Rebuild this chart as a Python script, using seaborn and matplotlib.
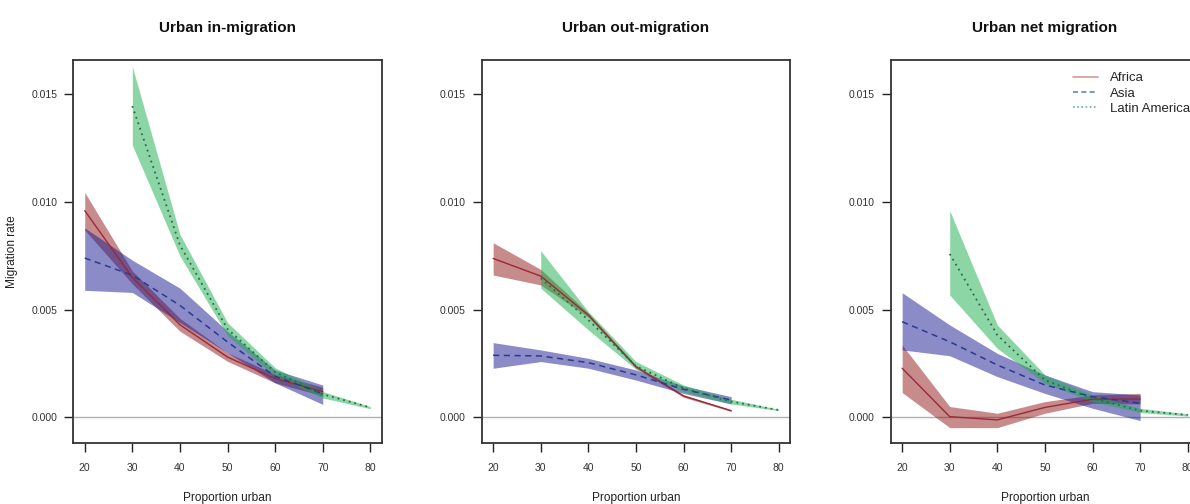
import numpy as np
import pandas as pd
import matplotlib
matplotlib.use("Agg")
import matplotlib.pyplot as plt
from matplotlib.lines import Line2D
import seaborn as sns

# ---------------- data ----------------
regions = ["Africa", "Asia", "Latin America"]
urban_af_as = [20, 30, 40, 50, 60, 70]
urban_la = [30, 40, 50, 60, 70, 80]
panel_titles = ["Urban in-migration", "Urban out-migration", "Urban net migration"]
y_ticks = [0.000, 0.005, 0.010, 0.015]
y_tick_labels = ["0.000", "0.005", "0.010", "0.015"]
x_ticks = [20, 30, 40, 50, 60, 70, 80]

# in-migration
africa_in = [0.0096, 0.0065, 0.0043, 0.0028, 0.0018, 0.0012]
africa_in_lo = [0.0087, 0.0062, 0.0040, 0.0026, 0.0016, 0.0010]
africa_in_hi = [0.01045, 0.0068, 0.0046, 0.0030, 0.0020, 0.0014]
asia_in = [0.0074, 0.0066, 0.0052, 0.0035, 0.0019, 0.0011]
asia_in_lo = [0.0059, 0.0058, 0.0044, 0.0030, 0.0016, 0.0006]
asia_in_hi = [0.0088, 0.0073, 0.0060, 0.0040, 0.0022, 0.0015]
latam_in = [0.01446, 0.0080, 0.0041, 0.0021, 0.00107, 0.00046]
latam_in_lo = [0.01265, 0.0075, 0.0038, 0.0019, 0.0009, 0.0004]
latam_in_hi = [0.0163, 0.0085, 0.0044, 0.0023, 0.0012, 0.0005]

# out-migration
africa_out = [0.00738, 0.00656, 0.00475, 0.00235, 0.00099, 0.00031]
africa_out_lo = [0.00661, 0.00615, 0.00465, 0.00228, 0.00093, 0.00027]
africa_out_hi = [0.00811, 0.00687, 0.00485, 0.00242, 0.00105, 0.00035]
asia_out = [0.00288, 0.00285, 0.00254, 0.00197, 0.0013, 0.0008]
asia_out_lo = [0.00228, 0.00259, 0.00228, 0.00173, 0.00111, 0.00062]
asia_out_hi = [0.00347, 0.00313, 0.00274, 0.0022, 0.00146, 0.00096]
latam_out = [0.00646, 0.00452, 0.00238, 0.00135, 0.00073, 0.00034]
latam_out_lo = [0.0060, 0.00406, 0.00223, 0.00119, 0.00062, 0.00031]
latam_out_hi = [0.00774, 0.00491, 0.00259, 0.0015, 0.00084, 0.00037]

# net migration
africa_net = [0.00228, 0.00003, -0.00012, 0.00046, 0.00084, 0.00085]
africa_net_lo = [0.00115, -0.00048, -0.00048, 0.00019, 0.00065, 0.00062]
africa_net_hi = [0.00336, 0.0005, 0.00019, 0.00073, 0.00104, 0.00111]
asia_net = [0.00444, 0.00351, 0.00243, 0.0015, 0.00096, 0.00065]
asia_net_lo = [0.00313, 0.00286, 0.00189, 0.00111, 0.00042, -0.00015]
asia_net_hi = [0.00579, 0.00429, 0.00297, 0.00197, 0.00119, 0.00104]
latam_net = [0.00759, 0.00382, 0.00173, 0.00088, 0.00031, 0.00011]
latam_net_lo = [0.00568, 0.0032, 0.00158, 0.00073, 0.00022, 0.00006]
latam_net_hi = [0.0096, 0.00429, 0.00197, 0.00104, 0.00042, 0.00016]

panels = [
    {"Africa": (africa_in, africa_in_lo, africa_in_hi),
     "Asia": (asia_in, asia_in_lo, asia_in_hi),
     "Latin America": (latam_in, latam_in_lo, latam_in_hi)},
    {"Africa": (africa_out, africa_out_lo, africa_out_hi),
     "Asia": (asia_out, asia_out_lo, asia_out_hi),
     "Latin America": (latam_out, latam_out_lo, latam_out_hi)},
    {"Africa": (africa_net, africa_net_lo, africa_net_hi),
     "Asia": (asia_net, asia_net_lo, asia_net_hi),
     "Latin America": (latam_net, latam_net_lo, latam_net_hi)},
]

# ---------------- style ----------------
sns.set_style("white")
plt.rcParams["font.family"] = ["Liberation Sans", "DejaVu Sans"]

fill_colors = {"Africa": "#911919", "Asia": "#191991", "Latin America": "#19af4b"}
line_colors = {"Africa": "#9a2a36", "Asia": "#2a3a8e", "Latin America": "#2b6a4c"}
legend_colors = {"Africa": "#d39a96", "Asia": "#5b87b3", "Latin America": "#6aa9a2"}
dash_styles = {"Africa": "", "Asia": (4, 3), "Latin America": (1, 2.2)}
line_widths = {"Africa": 1.0, "Asia": 1.1, "Latin America": 1.3}

fig = plt.figure(figsize=(11.9, 5.04), dpi=100)
lefts = [0.0616, 0.4048, 0.7485]
bottom, width, height = 0.1216, 0.2592, 0.7594

for i, (pdata, title) in enumerate(zip(panels, panel_titles)):
    ax = fig.add_axes([lefts[i], bottom, width, height])
    rows = []
    for reg in regions:
        xs = urban_la if reg == "Latin America" else urban_af_as
        mid, lo, hi = pdata[reg]
        ax.fill_between(xs, lo, hi, color=fill_colors[reg], alpha=0.5, linewidth=0, zorder=2)
        for x, m in zip(xs, mid):
            rows.append({"urban": x, "rate": m, "region": reg})
    df = pd.DataFrame(rows)
    ax.axhline(0, color="#b0b0b0", lw=1.0, zorder=1)
    sns.lineplot(data=df, x="urban", y="rate", hue="region", style="region",
                 palette=line_colors, dashes=dash_styles, estimator=None,
                 legend=False, ax=ax, zorder=3, linewidth=1.1)
    for line, reg in zip(ax.get_lines()[1:], regions):
        line.set_linewidth(line_widths[reg])

    ax.set_xlim(17.6, 82.4)
    ax.set_ylim(-0.00118, 0.0166)
    ax.set_xticks(x_ticks)
    ax.set_xticklabels([str(t) for t in x_ticks])
    ax.set_yticks(y_ticks)
    ax.set_yticklabels(y_tick_labels)
    ax.tick_params(axis="both", which="major", bottom=True, left=True,
                   top=False, right=False, direction="out", length=6.5, width=1.0,
                   color="#222222", labelsize=7.5, labelcolor="#333333")
    ax.tick_params(axis="x", pad=8)
    ax.tick_params(axis="y", pad=5)
    for sp in ax.spines.values():
        sp.set_visible(True)
        sp.set_color("#333333")
        sp.set_linewidth(1.3)
    ax.set_title(title, fontsize=11, fontweight="bold", pad=20, color="#111111")
    ax.set_xlabel("Proportion urban", fontsize=8.6, color="#222222")
    ax.xaxis.set_label_coords(0.5, -0.128)
    if i == 0:
        ax.set_ylabel("Migration rate", fontsize=8.6, color="#222222")
        ax.yaxis.set_label_coords(-0.18, 0.5)
    else:
        ax.set_ylabel("")
    if i == 2:
        handles = []
        for reg in regions:
            h = Line2D([0], [0], color=legend_colors[reg], lw=1.2)
            if dash_styles[reg]:
                h.set_dashes((3, 2) if reg == "Asia" else (1, 1.5))
            handles.append(h)
        ax.legend(handles, regions, loc="upper left", bbox_to_anchor=(0.591, 0.968),
                  frameon=False, fontsize=9.5, handlelength=1.9, handletextpad=0.9,
                  labelspacing=0.22, borderpad=0, borderaxespad=0)

fig.savefig("out.png", dpi=100)
